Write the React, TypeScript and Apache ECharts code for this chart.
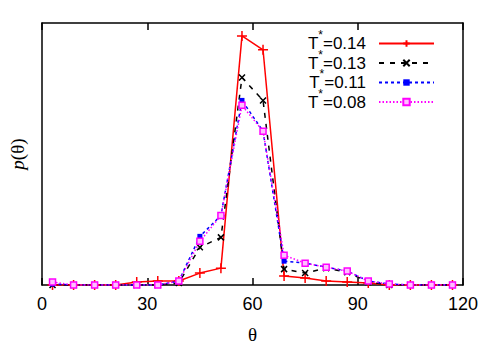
import React, { useEffect, useRef } from "react";
import * as echarts from "echarts";

const thetas = [3, 9, 15, 21, 27, 33, 39, 45, 51, 57, 63, 69, 75, 81, 87, 93, 99, 105, 111, 117];
const seriesNames = ["T*=0.14", "T*=0.13", "T*=0.11", "T*=0.08"];
const p014 = [0, 0, 0, 0, 0.003, 0.004, 0.004, 0.012, 0.017, 0.251, 0.237, 0.009, 0.007, 0.004, 0.003, 0.002, 0, 0, 0, 0];
const p013 = [0, 0, 0, 0, 0, 0, 0.002, 0.038, 0.048, 0.209, 0.186, 0.016, 0.012, 0.017, 0.013, 0.003, 0, 0, 0, 0];
const p011 = [0.001, 0, 0, 0, 0, 0, 0.004, 0.049, 0.070, 0.186, 0.155, 0.024, 0.022, 0.018, 0.014, 0.004, 0.001, 0, 0, 0];
const p008 = [0.003, 0, 0, 0, 0, 0, 0.004, 0.044, 0.070, 0.181, 0.155, 0.030, 0.022, 0.018, 0.014, 0.004, 0.001, 0, 0, 0];
const xTicks = [0, 30, 60, 90, 120];

const PLUS = "path://M0,5L10,5M5,0L5,10";
const CROSS = "path://M0,0L10,10M10,0L0,10";

export default function App() {
  const ref = useRef<HTMLDivElement>(null);
  useEffect(() => {
    if (!ref.current) return;
    const chart = echarts.init(ref.current, null, { renderer: "svg" });
    const mk = (vals: number[]) => vals.map((v, i) => [thetas[i], v]);
    const sans = "Liberation Sans";
    const serif = "Liberation Serif";
    const frame = { show: true, onZero: false, lineStyle: { color: "#000", width: 1.5 } };
    chart.setOption({
      animation: false,
      backgroundColor: "#fff",
      grid: { left: 35, right: 35, top: 23, bottom: 62, containLabel: false },
      legend: {
        data: seriesNames,
        orient: "vertical",
        right: 58,
        top: 24,
        align: "right",
        itemWidth: 55,
        itemHeight: 8,
        itemGap: -3.5,
        formatter: (name: string) => "T{s|*}" + name.slice(2),
        textStyle: {
          fontFamily: sans,
          fontSize: 17,
          lineHeight: 17,
          color: "#000",
          padding: [0, 8, 0, 0],
          rich: {
            s: { fontSize: 12, fontFamily: sans, verticalAlign: "top", lineHeight: 12, padding: [-6, 0, 0, 0], color: "#000" },
          },
        },
      },
      xAxis: [
        {
          type: "value",
          min: xTicks[0],
          max: xTicks[xTicks.length - 1],
          interval: 30,
          position: "bottom",
          name: "θ",
          nameLocation: "middle",
          nameGap: 40,
          nameTextStyle: { fontFamily: serif, fontSize: 19, color: "#000" },
          axisLine: frame,
          axisTick: { show: true, inside: true, length: 7, lineStyle: { color: "#000", width: 1.5 } },
          axisLabel: { show: true, fontFamily: sans, fontSize: 18, color: "#000", margin: 10 },
          splitLine: { show: false },
        },
        {
          type: "value",
          min: xTicks[0],
          max: xTicks[xTicks.length - 1],
          interval: 30,
          position: "top",
          axisLine: frame,
          axisTick: { show: true, inside: true, length: 7, lineStyle: { color: "#000", width: 1.5 } },
          axisLabel: { show: false },
          splitLine: { show: false },
        },
      ],
      yAxis: [
        {
          type: "value",
          min: 0,
          max: 0.264,
          position: "left",
          name: "{i|p}(θ)",
          nameLocation: "middle",
          nameGap: 15,
          nameRotate: 90,
          nameTextStyle: {
            fontFamily: serif,
            fontSize: 19,
            color: "#000",
            rich: { i: { fontFamily: serif, fontStyle: "italic", fontSize: 19, color: "#000" } },
          },
          axisLine: frame,
          axisTick: { show: false },
          axisLabel: { show: false },
          splitLine: { show: false },
        },
        {
          type: "value",
          min: 0,
          max: 0.264,
          position: "right",
          axisLine: frame,
          axisTick: { show: false },
          axisLabel: { show: false },
          splitLine: { show: false },
        },
      ],
      series: [
        {
          name: seriesNames[0],
          type: "line",
          data: mk(p014),
          symbol: PLUS,
          symbolSize: 10,
          lineStyle: { color: "#ff0000", width: 1.5, type: "solid" },
          itemStyle: { color: "#ff0000", borderColor: "#ff0000", borderWidth: 1.5 },
        },
        {
          name: seriesNames[1],
          type: "line",
          data: mk(p013),
          symbol: CROSS,
          symbolSize: 6,
          lineStyle: { color: "#000000", width: 1.5, type: [5, 6] },
          itemStyle: { color: "#000000", borderColor: "#000000", borderWidth: 1.5 },
        },
        {
          name: seriesNames[2],
          type: "line",
          data: mk(p011),
          symbol: "rect",
          symbolSize: 5,
          lineStyle: { color: "#0000ff", width: 1.5, type: [3, 3] },
          itemStyle: { color: "#0000ff", borderColor: "#0000ff", borderWidth: 0 },
        },
        {
          name: seriesNames[3],
          type: "line",
          data: mk(p008),
          symbol: "rect",
          symbolSize: 6,
          lineStyle: { color: "#ff00ff", width: 1.5, type: [1.5, 2] },
          itemStyle: { color: "#ffc0ff", borderColor: "#ff00ff", borderWidth: 1.5 },
        },
      ],
    });
    return () => chart.dispose();
  }, []);
  return <div ref={ref} style={{ width: 498, height: 349, position: "absolute", left: 0, top: 0 }} />;
}
